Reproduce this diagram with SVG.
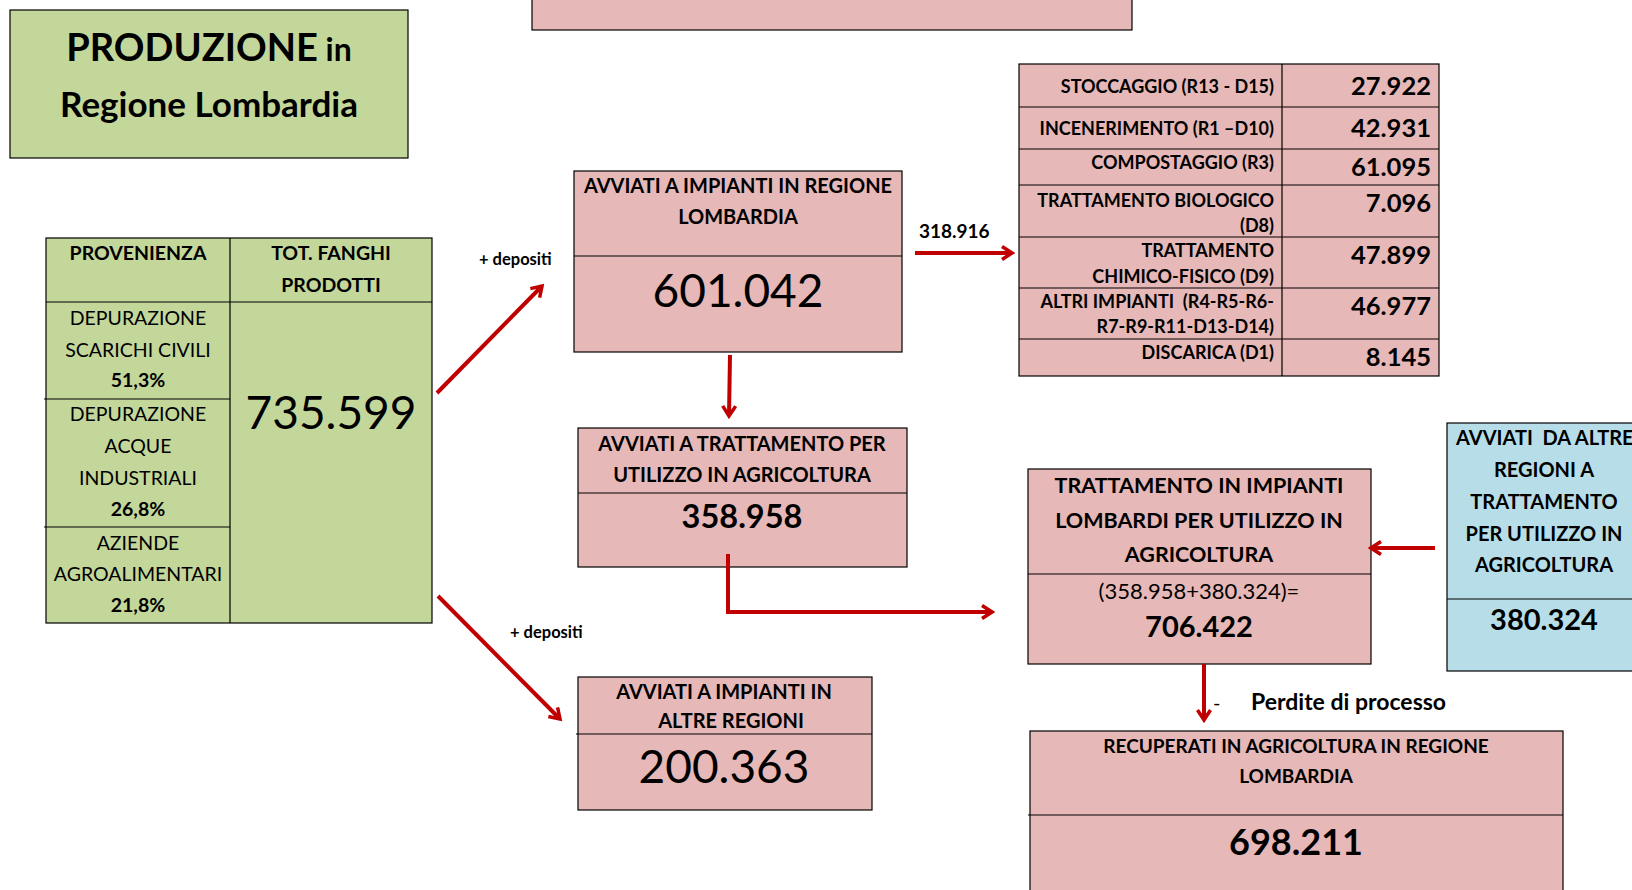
<svg xmlns="http://www.w3.org/2000/svg" width="1632" height="890" viewBox="0 0 1632 890">
<style>
text{font-family:Lato,"Open Sans","DejaVu Sans",sans-serif;fill:#000}
.m{text-anchor:middle}
.e{text-anchor:end}
.b{font-weight:bold}
.green{fill:#C4D79B;stroke:#000;stroke-width:1.2}
.pink{fill:#E6B8B7;stroke:#000;stroke-width:1.2}
.blue{fill:#B7DEE8;stroke:#000;stroke-width:1.2}
.ln{stroke:#000;stroke-width:1.2;fill:none}
.arr{stroke:#C00000;stroke-width:4;fill:none;marker-end:url(#ah)}
</style>
<defs>
<marker id="ah" viewBox="0 0 16 16" refX="13" refY="8" markerWidth="16" markerHeight="16" markerUnits="userSpaceOnUse" orient="auto">
<path d="M3,1.5 L13,8 L3,14.5" fill="none" stroke="#C00000" stroke-width="3.5"/>
</marker>
</defs>
<rect width="1632" height="890" fill="#fff"/>

<g id="top-box">
<rect class="pink" x="532" y="-5" width="600" height="35"/>
</g>

<g id="title">
<rect class="green" x="10" y="10" width="398" height="148"/>
<text class="m b" x="209" y="61"><tspan font-size="38">PRODUZIONE</tspan><tspan font-size="32"> in</tspan></text>
<text class="m b" x="209" y="117" font-size="35">Regione Lombardia</text>
</g>

<g id="provenienza" font-size="19.5">
<rect class="green" x="46" y="238" width="386" height="385"/>
<path class="ln" d="M230,238V623M46,302H432M44,399H230M44,527H230"/>
<text class="m b" x="138" y="260">PROVENIENZA</text>
<text class="m b" x="331" y="260">TOT. FANGHI</text>
<text class="m b" x="331" y="292">PRODOTTI</text>
<text class="m" x="138" y="325">DEPURAZIONE</text>
<text class="m" x="138" y="357">SCARICHI CIVILI</text>
<text class="m b" x="138" y="387">51,3%</text>
<text class="m" x="138" y="421">DEPURAZIONE</text>
<text class="m" x="138" y="453">ACQUE</text>
<text class="m" x="138" y="485">INDUSTRIALI</text>
<text class="m b" x="138" y="516">26,8%</text>
<text class="m" x="138" y="550">AZIENDE</text>
<text class="m" x="138" y="581">AGROALIMENTARI</text>
<text class="m b" x="138" y="612">21,8%</text>
<text class="m" x="331" y="429" font-size="46">735.599</text>
</g>

<g id="avviati-lombardia">
<rect class="pink" x="574" y="171" width="328" height="181"/>
<path class="ln" d="M574,256H902"/>
<text class="m b" x="738" y="193" font-size="20">AVVIATI A IMPIANTI IN REGIONE</text>
<text class="m b" x="738" y="224" font-size="20">LOMBARDIA</text>
<text class="m" x="738" y="307" font-size="46">601.042</text>
</g>

<g id="destinazioni">
<rect class="pink" x="1019" y="64" width="420" height="312"/>
<path class="ln" d="M1282,64V376M1019,107H1439M1019,149H1439M1019,185H1439M1019,237H1439M1019,288H1439M1019,339H1439"/>
<g font-size="18" class="e b">
<text class="e b" x="1274" y="93">STOCCAGGIO (R13 - D15)</text>
<text class="e b" x="1274" y="135">INCENERIMENTO (R1 –D10)</text>
<text class="e b" x="1274" y="169">COMPOSTAGGIO (R3)</text>
<text class="e b" x="1274" y="207">TRATTAMENTO BIOLOGICO</text>
<text class="e b" x="1274" y="232">(D8)</text>
<text class="e b" x="1274" y="257">TRATTAMENTO</text>
<text class="e b" x="1274" y="283">CHIMICO-FISICO (D9)</text>
<text class="e b" x="1274" y="308" xml:space="preserve">ALTRI IMPIANTI  (R4-R5-R6-</text>
<text class="e b" x="1274" y="333">R7-R9-R11-D13-D14)</text>
<text class="e b" x="1274" y="359">DISCARICA (D1)</text>
</g>
<g font-size="25.5">
<text class="e b" x="1431" y="95">27.922</text>
<text class="e b" x="1431" y="137">42.931</text>
<text class="e b" x="1431" y="176">61.095</text>
<text class="e b" x="1431" y="212">7.096</text>
<text class="e b" x="1431" y="264">47.899</text>
<text class="e b" x="1431" y="315">46.977</text>
<text class="e b" x="1431" y="366">8.145</text>
</g>
</g>

<g id="avviati-agricoltura">
<rect class="pink" x="578" y="428" width="329" height="139"/>
<path class="ln" d="M578,493H907"/>
<text class="m b" x="742" y="451" font-size="20">AVVIATI A TRATTAMENTO PER</text>
<text class="m b" x="742" y="482" font-size="20">UTILIZZO IN AGRICOLTURA</text>
<text class="m b" x="742" y="528" font-size="32.5">358.958</text>
</g>

<g id="avviati-altre-regioni">
<rect class="pink" x="578" y="677" width="294" height="133"/>
<path class="ln" d="M576,734H872"/>
<text class="m b" x="724" y="699" font-size="20">AVVIATI A IMPIANTI IN</text>
<text class="m b" x="731" y="728" font-size="20">ALTRE REGIONI</text>
<text class="m" x="724" y="783" font-size="46">200.363</text>
</g>

<g id="trattamento-lombardi">
<rect class="pink" x="1028" y="469" width="343" height="195"/>
<path class="ln" d="M1028,574H1371"/>
<text class="m b" x="1199" y="493" font-size="21.5">TRATTAMENTO IN IMPIANTI</text>
<text class="m b" x="1199" y="528" font-size="21.5">LOMBARDI PER UTILIZZO IN</text>
<text class="m b" x="1199" y="562" font-size="21.5">AGRICOLTURA</text>
<text class="m" x="1199" y="599" font-size="22">(358.958+380.324)=</text>
<text class="m b" x="1199" y="637" font-size="29">706.422</text>
</g>

<g id="avviati-da-altre">
<rect class="blue" x="1447" y="423" width="260" height="248"/>
<path class="ln" d="M1447,599H1640"/>
<text class="b" x="1456" y="445" font-size="20" xml:space="preserve">AVVIATI  DA ALTRE</text>
<text class="m b" x="1544" y="477" font-size="20">REGIONI A</text>
<text class="m b" x="1544" y="509" font-size="20">TRATTAMENTO</text>
<text class="m b" x="1544" y="541" font-size="20">PER UTILIZZO IN</text>
<text class="m b" x="1544" y="572" font-size="20">AGRICOLTURA</text>
<text class="m b" x="1544" y="630" font-size="29">380.324</text>
</g>

<g id="recuperati">
<rect class="pink" x="1030" y="731" width="533" height="170"/>
<path class="ln" d="M1028,815H1563"/>
<text class="m b" x="1296" y="753" font-size="19">RECUPERATI IN AGRICOLTURA IN REGIONE</text>
<text class="m b" x="1296" y="783" font-size="19">LOMBARDIA</text>
<text class="m b" x="1296" y="855" font-size="36">698.211</text>
</g>

<g id="labels">
<text class="b" x="479" y="265" font-size="16.5">+ depositi</text>
<text class="b" x="510" y="638" font-size="16.5">+ depositi</text>
<text class="b" x="919" y="238" font-size="19">318.916</text>
<text x="1213" y="710" font-size="20">-</text>
<text class="b" x="1251" y="710" font-size="23">Perdite di processo</text>
</g>

<g id="connectors">
<path class="arr" d="M437,393L542,286"/>
<path class="arr" d="M438,596L560,719"/>
<path class="arr" d="M730,355L729,416"/>
<path class="arr" d="M915,253H1012"/>
<path class="arr" d="M728,554V612H992"/>
<path class="arr" d="M1435,548H1371"/>
<path class="arr" d="M1204,664V720"/>
</g>
</svg>
